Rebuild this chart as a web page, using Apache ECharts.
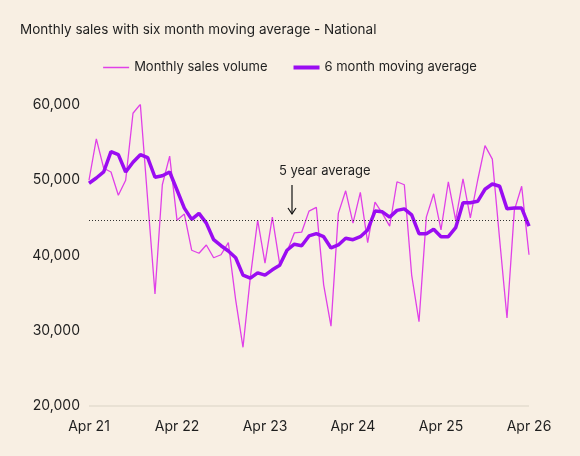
<!DOCTYPE html>
<html><head><meta charset="utf-8">
<script src="https://cdn.jsdelivr.net/npm/echarts@6/dist/echarts.min.js"></script>
<style>html,body{margin:0;padding:0;background:#f8efe3}#c{width:580px;height:456px}</style>
</head><body><div id="c"></div>
<script>
// monthly, Apr 21 .. Apr 26
const months = [];
const mNames = ['Jan','Feb','Mar','Apr','May','Jun','Jul','Aug','Sep','Oct','Nov','Dec'];
for (let i = 0; i < 61; i++) {
  const m = (3 + i) % 12, y = 21 + Math.floor((3 + i) / 12);
  months.push(mNames[m] + ' ' + y);
}
const monthlySales = [50.0,55.5,51.6,51.1,48.0,50.0,58.9,60.1,47.4,34.9,49.4,53.2,44.7,45.5,40.7,40.3,41.4,39.7,40.1,41.7,
  34.1,27.8,37.1,44.7,39.0,45.1,38.9,40.5,43.0,43.1,45.9,46.4,36.1,30.6,45.6,48.6,44.3,48.4,41.7,47.1,
  45.6,43.9,49.8,49.4,37.4,31.2,45.1,48.2,43.4,49.8,44.7,50.2,45.0,50.0,54.6,52.8,42.1,31.7,46.0,49.2,40.1].map(v => v * 1000);
const movingAvg = [49.6,50.3,51.1,53.8,53.4,51.1,52.4,53.4,53.0,50.4,50.6,51.1,48.7,46.3,44.8,45.6,44.3,42.1,41.3,40.6,
  39.7,37.4,37.0,37.7,37.4,38.1,38.7,40.7,41.5,41.3,42.6,42.9,42.5,41.0,41.4,42.3,42.1,42.5,43.4,45.9,
  45.8,45.1,46.0,46.2,45.4,42.9,42.9,43.5,42.5,42.5,43.7,47.0,47.0,47.2,48.8,49.5,49.2,46.2,46.3,46.3,43.9].map(v => v * 1000);
const fiveYearAvg = 44700;

const chart = echarts.init(document.getElementById('c'));
const txt = '#1f1f1f';
chart.setOption({
  backgroundColor: '#f8efe3',
  textStyle: { fontFamily: 'Inter, Roboto, sans-serif' },
  title: { text: 'Monthly sales with six month moving average - National', left: 15, top: 18,
    textStyle: { fontSize: 13.5, fontWeight: 'normal', color: txt } },
  legend: { top: 56, left: 'center', itemWidth: 26, itemHeight: 5, itemGap: 26,
    textStyle: { fontSize: 13, color: txt },
    data: [{ name: 'Monthly sales volume', icon: 'path://M0,1.8H26V3.2H0Z M0,0H0.01V5H0Z', itemStyle: { color: '#e040e8' } },
           { name: '6 month moving average', icon: 'path://M0,0.5H26V4.5H0Z M0,0H0.01V5H0Z', itemStyle: { color: '#9a0cf2' } }] },
  grid: { left: 89, right: 51, top: 105, bottom: 50 },
  xAxis: { type: 'category', data: months, boundaryGap: false,
    axisLine: { show: false }, axisTick: { show: false },
    axisLabel: { interval: 11, color: txt, fontSize: 14, margin: 14,
      formatter: v => v.replace(/^\w+/, 'Apr') } },
  yAxis: { type: 'value', min: 20000, max: 60000, interval: 10000,
    axisLine: { show: false }, axisTick: { show: false },
    axisLabel: { color: txt, fontSize: 14, margin: 9, formatter: v => v.toLocaleString('en-US') },
    splitLine: { show: true, lineStyle: { color: ['#e4dccf', 'transparent', 'transparent', 'transparent', 'transparent'], width: 1.5 } } },
  series: [
    { name: 'Monthly sales volume', type: 'line', data: monthlySales, symbol: 'none',
      lineStyle: { color: '#e040e8', width: 1.3 }, itemStyle: { color: '#e040e8' },
      markLine: { silent: true, symbol: 'none', label: { show: false },
        lineStyle: { color: '#333', type: [1, 2], width: 1 }, data: [{ yAxis: fiveYearAvg }] } },
    { name: '6 month moving average', type: 'line', data: movingAvg, symbol: 'none',
      lineStyle: { color: '#9a0cf2', width: 3.5 }, itemStyle: { color: '#9a0cf2' } }
  ],
  graphic: [
    { type: 'text', left: 279, top: 165, style: { text: '5 year average', fontSize: 13, fill: txt, fontFamily: 'Inter, Roboto, sans-serif' } },
    { type: 'line', shape: { x1: 292, y1: 185, x2: 292, y2: 214 }, style: { stroke: '#111', lineWidth: 1.2 } },
    { type: 'polyline', shape: { points: [[288, 208], [292, 214], [296, 208]] }, style: { stroke: '#111', lineWidth: 1.2, fill: null } }
  ]
});
</script></body></html>
